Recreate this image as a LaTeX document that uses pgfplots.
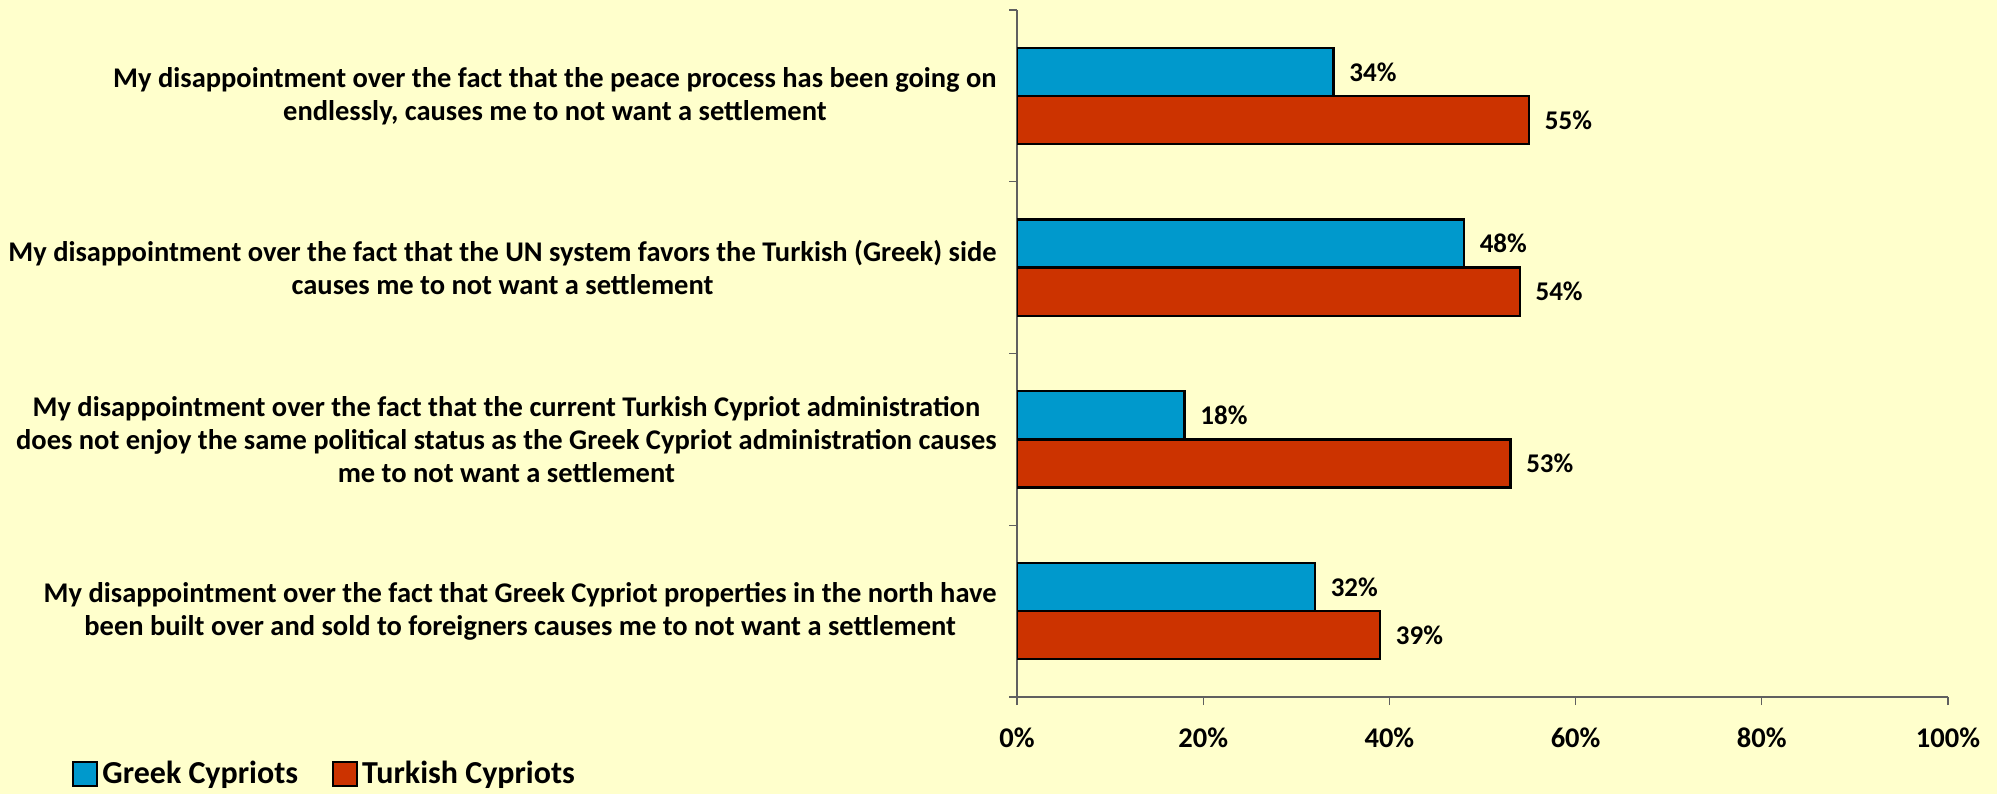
\documentclass[border=0pt]{standalone}
\usepackage{pgfplots}
\pgfplotsset{compat=1.18}
\usepackage{fontspec}
\setmainfont{Carlito}
\definecolor{bgyellow}{HTML}{FFFFCC}
\definecolor{gcblue}{HTML}{0099CC}
\definecolor{tcred}{HTML}{CC3300}
\definecolor{axgray}{HTML}{606060}
\newcommand{\lblfont}{\fontsize{14.25}{16.5}\selectfont\bfseries}
\newcommand{\valfont}{\fontsize{13.5}{16.5}\selectfont\bfseries}
\begin{document}
\begin{tikzpicture}
% page background, 1997 x 794 px at 0.5pt per px
\path[use as bounding box, fill=bgyellow] (0,0) rectangle (998.5pt,397pt);
\begin{axis}[
    at={(508.5pt,48.5pt)}, anchor=south west,
    scale only axis,
    width=465.5pt, height=343.5pt,
    xmin=0, xmax=100,
    ymin=-0.5, ymax=3.5,
    axis lines*=left,
    axis line style={-, draw=axgray, line width=0.6pt},
    tick style={draw=axgray, line width=0.6pt},
    tick align=outside,
    xtick={0,20,40,60,80,100},
    major tick length=4pt,
    xticklabel={\pgfmathprintnumber{\tick}\%},
    /pgf/number format/assume math mode=true,
    xticklabel style={font=\lblfont, yshift=-8pt},
    ytick={0,1,2,3},
    yticklabels={
        {My disappointment over the fact that Greek Cypriot properties in the north have\\been built over and sold to foreigners causes me to not want a settlement},
        {My disappointment over the fact that the current Turkish Cypriot administration\\does not enjoy the same political status as the Greek Cypriot administration causes\\me to not want a settlement},
        {My disappointment over the fact that the UN system favors the Turkish (Greek) side\\causes me to not want a settlement},
        {My disappointment over the fact that the peace process has been going on\\endlessly, causes me to not want a settlement}
    },
    yticklabel style={font=\lblfont, align=center, inner sep=0pt, xshift=-6pt},
    y tick style={draw=none},
    extra y ticks={-0.5,0.5,1.5,2.5,3.5},
    extra y tick labels={},
    extra y tick style={y tick style={draw=axgray}},
    xbar,
    bar width=0.28,
    point meta=x,
    nodes near coords={\pgfmathprintnumber{\pgfplotspointmeta}\%},
    nodes near coords style={font=\valfont, anchor=west, xshift=4pt},
    legend columns=2,
    legend style={at={(-1.015,-0.112)}, anchor=west, draw=none, fill=none,
        inner sep=0pt, font=\fontsize{16}{19}\selectfont\bfseries,
        /tikz/every even column/.append style={column sep=15pt}},
    legend image code/.code={\draw[#1, line width=1pt] (0pt,-6pt) rectangle (12pt,6pt);},
]
\addplot[fill=gcblue, draw=black, line width=1.2pt, bar shift=0.14]
    coordinates {(34,3) (48,2) (18,1) (32,0)};
\addplot[fill=tcred, draw=black, line width=1.2pt, bar shift=-0.14]
    coordinates {(55,3) (54,2) (53,1) (39,0)};
\legend{Greek Cypriots, Turkish Cypriots}
\end{axis}
\end{tikzpicture}
\end{document}
